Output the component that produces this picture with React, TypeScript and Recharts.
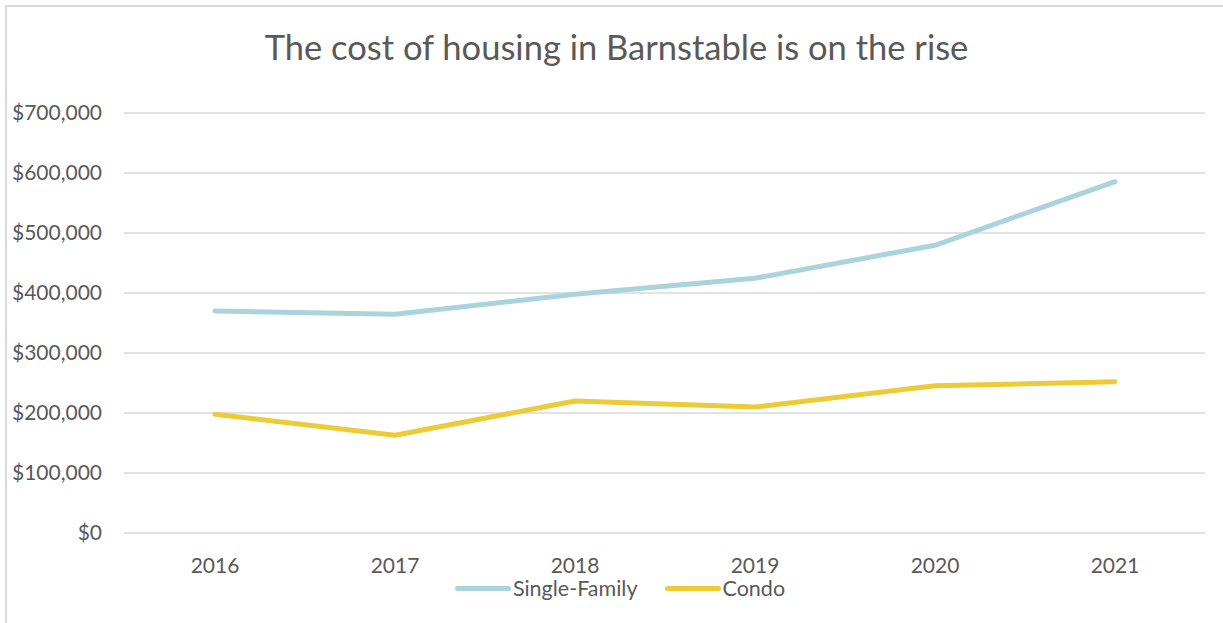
import React from 'react';
import { LineChart, Line, XAxis, YAxis, CartesianGrid, Legend } from 'recharts';

const years = ['2016', '2017', '2018', '2019', '2020', '2021'];
const singleFamily = [370000, 364500, 398000, 424500, 479500, 585500];
const condo = [198000, 163000, 220000, 210000, 245500, 252000];
const yTicks = [0, 100000, 200000, 300000, 400000, 500000, 600000, 700000];
const legendOrder = ['Single-Family', 'Condo'];

const data = years.map((year, i) => ({
    year,
    single: singleFamily[i],
    condo: condo[i],
}));

const FONT = 'Lato, "Open Sans", sans-serif';
const TEXT = '#595959';
const GRID = '#d9d9d9';

const formatMoney = (v: number) => `$${v.toLocaleString('en-US')}`;

function LegendContent({ payload }: any) {
    const items = [...(payload || [])].sort(
        (a: any, b: any) => legendOrder.indexOf(a.value) - legendOrder.indexOf(b.value)
    );
    return (
        <div
            style={{
                display: 'flex',
                justifyContent: 'center',
                alignItems: 'center',
                fontFamily: FONT,
                fontSize: 21.5,
                color: TEXT,
            }}
        >
            {items.map((p: any, i: number) => (
                <div key={i} style={{ display: 'flex', alignItems: 'center', marginRight: i === 0 ? 27 : 0 }}>
                    <span
                        style={{
                            display: 'inline-block',
                            width: 56,
                            height: 5,
                            borderRadius: 3,
                            background: p.color,
                            marginRight: 2,
                        }}
                    />
                    <span>{p.value}</span>
                </div>
            ))}
        </div>
    );
}

export default function App() {
    return (
        <div style={{ position: 'absolute', left: 0, top: 0, width: 1223, height: 623, overflow: 'hidden', background: '#fff' }}>
            <div
                style={{
                    position: 'absolute',
                    left: 5,
                    top: 5,
                    width: 1400,
                    height: 800,
                    border: `2px solid ${GRID}`,
                    boxSizing: 'border-box',
                }}
            />
            <div
                style={{
                    position: 'absolute',
                    left: 0,
                    top: 26,
                    width: 1233,
                    textAlign: 'center',
                    fontFamily: FONT,
                    fontSize: 34.5,
                    color: TEXT,
                }}
            >
                The cost of housing in Barnstable is on the rise
            </div>
            <LineChart
                width={1223}
                height={623}
                data={data}
                margin={{ top: 113, right: 18, left: 0, bottom: 0 }}
                style={{ position: 'absolute', left: 0, top: 0 }}
            >
                <CartesianGrid vertical={false} stroke={GRID} strokeWidth={1.5} />
                <XAxis
                    dataKey="year"
                    height={90}
                    padding={{ left: 91, right: 90 }}
                    axisLine={false}
                    tickLine={false}
                    tickSize={0}
                    tickMargin={25}
                    tick={{ fill: TEXT, fontSize: 21, fontFamily: FONT }}
                />
                <YAxis
                    width={124}
                    domain={[0, 700000]}
                    ticks={yTicks}
                    tickFormatter={formatMoney}
                    axisLine={false}
                    tickLine={false}
                    tickSize={0}
                    tickMargin={22}
                    tick={{ fill: TEXT, fontSize: 21, fontFamily: FONT }}
                />
                <Legend
                    layout="horizontal"
                    verticalAlign="middle"
                    align="center"
                    content={<LegendContent />}
                    wrapperStyle={{ position: 'absolute', left: 0, top: 575, width: 1240 }}
                />
                <Line
                    dataKey="single"
                    name="Single-Family"
                    stroke="#a9d4db"
                    strokeWidth={5}
                    strokeLinecap="round"
                    strokeLinejoin="round"
                    dot={false}
                    activeDot={false}
                    isAnimationActive={false}
                />
                <Line
                    dataKey="condo"
                    name="Condo"
                    stroke="#edcb36"
                    strokeWidth={5}
                    strokeLinecap="round"
                    strokeLinejoin="round"
                    dot={false}
                    activeDot={false}
                    isAnimationActive={false}
                />
            </LineChart>
        </div>
    );
}
